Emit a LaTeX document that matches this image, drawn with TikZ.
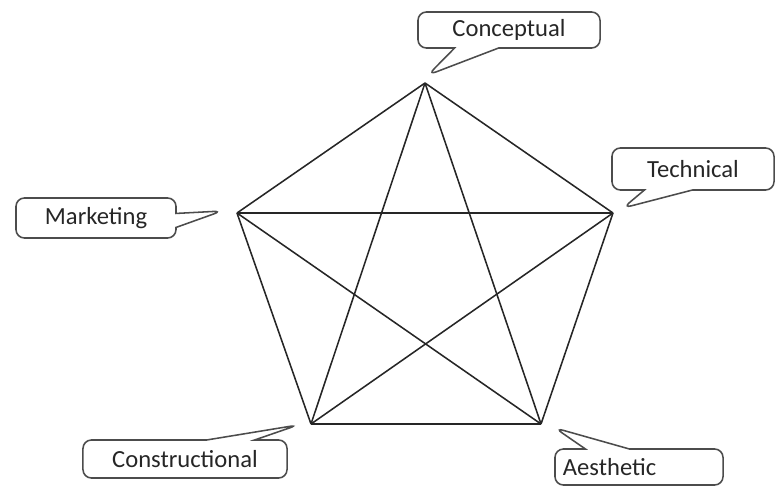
\documentclass[tikz,border=0pt]{standalone}
\usepackage{fontspec}
\setmainfont{Carlito}
\usetikzlibrary{shapes.callouts, calc}

\begin{document}
\begin{tikzpicture}[
  x=0.025cm, y=-0.025cm, font=\fontsize{17.5}{20}\selectfont,
  ed/.style={line width=1.1pt, black!85},
  cl/.style={rectangle callout, draw=black!70, line width=1.1pt, rounded corners=6pt,
             align=center, inner sep=0pt, text=black!85}]
\useasboundingbox (0,0) rectangle (776,487);

% ---- pentagon corners ----
\coordinate (con) at (425,83);
\coordinate (tec) at (613,213);
\coordinate (aes) at (541,424);
\coordinate (cst) at (311,424);
\coordinate (mkt) at (237,213);

% ---- outline and star ----
\draw[ed] (con)--(tec); \draw[ed] (tec)--(aes); \draw[ed] (aes)--(cst);
\draw[ed] (cst)--(mkt); \draw[ed] (mkt)--(con);
\draw[ed] (con)--(aes); \draw[ed] (con)--(cst);
\draw[ed] (mkt)--(tec); \draw[ed] (mkt)--(aes);
\draw[ed] (cst)--(tec);

% ---- labels ----
\node[cl, minimum width=4.55cm, minimum height=0.9cm, callout pointer width=1.1cm,
      callout absolute pointer={($(con)+(3,-8)$)}] (lcon) at (509,30) {Conceptual};
\node[cl, minimum width=4.05cm, minimum height=1.05cm, callout pointer width=1.2cm,
      callout absolute pointer={($(tec)+(10,-5)$)}] (ltec) at (693,169) {Technical};
\node[cl, minimum width=4.0cm, minimum height=1.0cm, callout pointer width=0.35cm,
      callout absolute pointer={($(mkt)+(-15,-2)$)}] (lmkt) at (96,218) {Marketing};
\node[cl, minimum width=5.1cm, minimum height=0.95cm, callout pointer width=1.2cm,
      callout absolute pointer={($(cst)+(-13,1)$)}] (lcst) at (185,459) {Constructional};
\node[cl, minimum width=4.2cm, minimum height=0.9cm, callout pointer width=1.1cm,
      align=left, text width=3.8cm, inner xsep=0.2cm,
      callout absolute pointer={($(aes)+(14,4)$)}] (laes) at (639,467) {Aesthetic};
\end{tikzpicture}
\end{document}
